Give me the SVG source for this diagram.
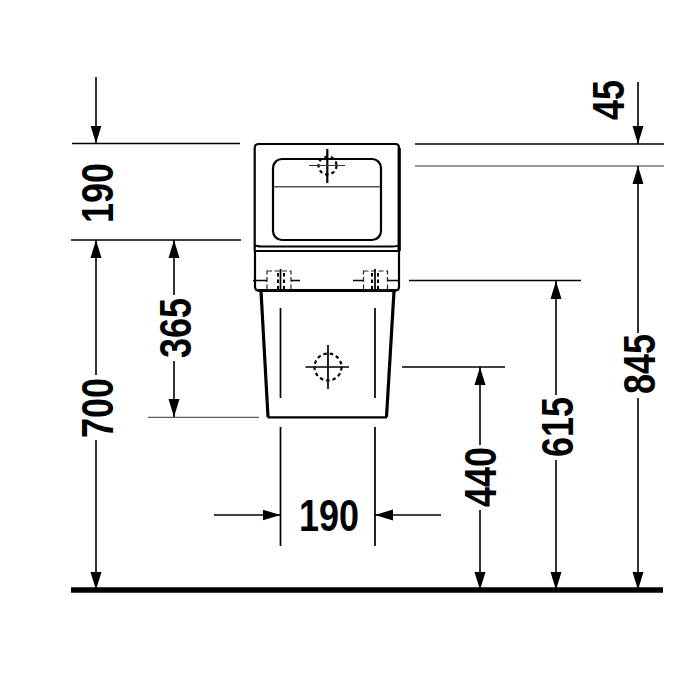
<svg xmlns="http://www.w3.org/2000/svg" width="700" height="700" viewBox="0 0 700 700">
<defs>
<marker id="ah" markerUnits="userSpaceOnUse" markerWidth="19" markerHeight="12" refX="18" refY="6" orient="auto-start-reverse"><path d="M0,.5 L18,6 L0,11.500 Z" fill="#000"/></marker>
</defs>
<style>
.l{fill:none;stroke:#000;stroke-width:1.700}
.t{fill:none;stroke:#333;stroke-width:1}
.m{fill:none;stroke:#000;stroke-width:2.200}
.h{fill:none;stroke:#000;stroke-width:3.200}
.g{fill:none;stroke:#555;stroke-width:1.500}
.d{fill:none;stroke:#000;stroke-width:2.200;stroke-dasharray:3.500 3}
.b{fill:none;stroke:#222;stroke-width:1.200;stroke-dasharray:5 2.500}
.a{fill:none;stroke:#000;stroke-width:1.600;marker-end:url(#ah)}
text{font-family:"Liberation Sans",Arial,sans-serif;font-weight:bold;font-size:45px;text-anchor:middle;fill:#000}
</style>
<rect width="700" height="700" fill="#fff"/>
<g id="urinal-upper">
<path class="m" d="M254.700,251 V148 Q254.700,144 258.500,144 H395.500 Q399,144 399,148 V251"/>
<path class="h" d="M399.200,148 V251"/>
<rect class="m" x="273" y="159" width="108" height="81" rx="9"/>
<path class="g" d="M274,186.700 H380"/>
<path class="m" d="M254.700,245 Q256,246.500 262,246.500 H392 Q398,246.500 399,245 M255.500,251 H398.500 M255,251 V287 Q255,290.500 259,290.500 H395 Q399,290.500 399,287 V251"/>
<path class="h" d="M258,290.500 H396"/>
</g>
<g id="urinal-lower">
<path class="h" d="M261,291 L268,417"/>
<path class="h" d="M394,291 L386.500,417"/>
<path class="m" d="M267.500,417.300 H387"/>
<path class="l" d="M280.500,308 V398 M375,308 V398"/>
</g>
<g id="targets">
<circle class="d" cx="327.500" cy="165.500" r="9"/>
<path class="m" d="M327.300,149 V183"/>
<path class="t" d="M309,165.500 H345"/>
<circle class="d" cx="328" cy="367" r="13.500"/>
<path class="l" d="M328,345 V389 M305.500,367 H349"/>
</g>
<g id="brackets">
<rect class="b" x="267" y="271" width="24" height="19"/>
<rect class="b" x="363.500" y="271" width="24" height="19"/>
<path class="d" style="stroke-width:2" d="M278,273 V289 M284,273 V289 M372,273 V289 M378,273 V289"/>
<path class="l" d="M280.500,269 V292 M375,269 V292 M253,280.500 H267 M291,280.500 H300 M353,280.500 H363 M388,280.500 H400"/>
</g>
<g id="connectors">
<path class="l" d="M72,143.500 H240 M71,240 H241 M415,144 H664 M402,367 H505 M409,280.500 H581"/>
<path class="t" d="M148,417.300 H259 M415,166 H664"/>
<path class="l" d="M280.500,427 V546 M375,427 V546"/>
<path class="a" d="M96,77 V143.500"/>
<path class="a" d="M96,375 V240"/>
<path class="a" d="M96,440 V590"/>
<path class="a" d="M174,295 V240"/>
<path class="a" d="M174,361 V417"/>
<path class="a" d="M638,82 V144"/>
<path class="a" d="M638,333 V166"/>
<path class="a" d="M638,398 V590"/>
<path class="a" d="M556,395 V281"/>
<path class="a" d="M556,460 V590"/>
<path class="a" d="M480,445 V367"/>
<path class="a" d="M480,510 V590"/>
<path class="a" d="M214,515 H280.500"/>
<path class="a" d="M441,515 H375"/>
<path d="M71,590 H663" fill="none" stroke="#000" stroke-width="5.500"/>
</g>
<g id="labels">
<text x="329" y="531" textLength="60" lengthAdjust="spacingAndGlyphs">190</text>
<text transform="translate(113,193) rotate(-90)" textLength="60" lengthAdjust="spacingAndGlyphs">190</text>
<text transform="translate(113,408) rotate(-90)" textLength="60" lengthAdjust="spacingAndGlyphs">700</text>
<text transform="translate(191,328) rotate(-90)" textLength="60" lengthAdjust="spacingAndGlyphs">365</text>
<text transform="translate(624,100) rotate(-90)" textLength="40" lengthAdjust="spacingAndGlyphs">45</text>
<text transform="translate(655,364) rotate(-90)" textLength="60" lengthAdjust="spacingAndGlyphs">845</text>
<text transform="translate(573,427) rotate(-90)" textLength="60" lengthAdjust="spacingAndGlyphs">615</text>
<text transform="translate(496,477) rotate(-90)" textLength="60" lengthAdjust="spacingAndGlyphs">440</text>
</g>
</svg>
